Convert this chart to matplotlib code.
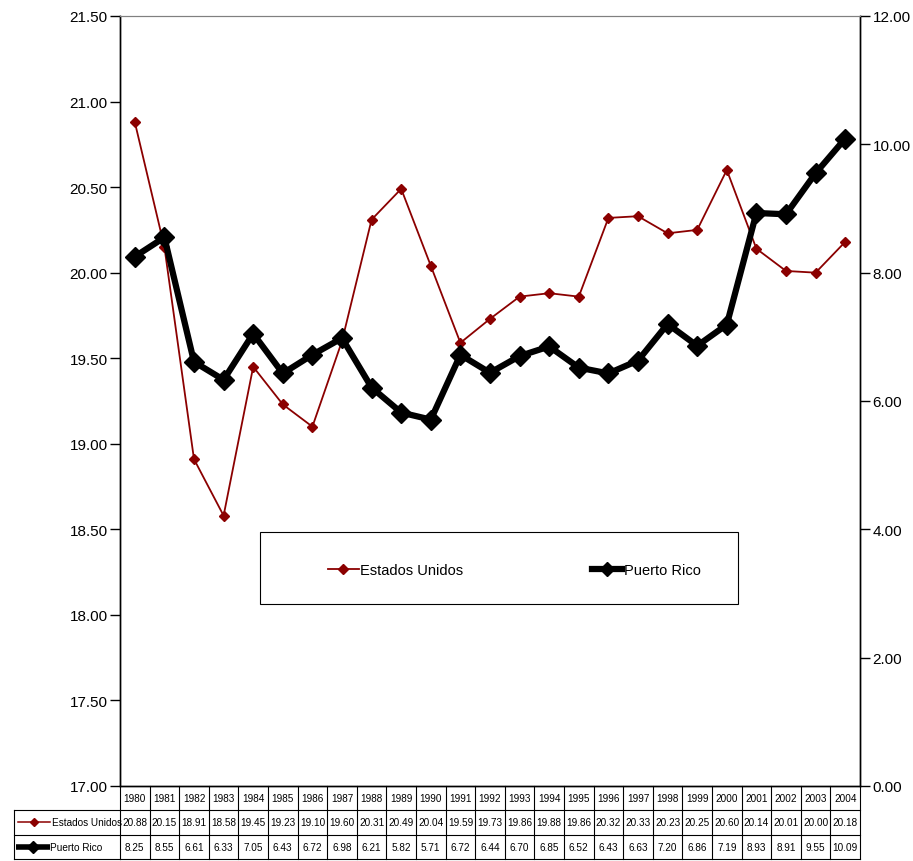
import matplotlib
matplotlib.use("Agg")
import matplotlib.pyplot as plt
from matplotlib.lines import Line2D
from matplotlib.patches import Rectangle

plt.rcParams['font.family'] = ['Liberation Sans', 'DejaVu Sans']

years = list(range(1980, 2005))
estados_unidos = [20.88, 20.15, 18.91, 18.58, 19.45, 19.23, 19.10, 19.60, 20.31, 20.49,
                  20.04, 19.59, 19.73, 19.86, 19.88, 19.86, 20.32, 20.33, 20.23, 20.25,
                  20.60, 20.14, 20.01, 20.00, 20.18]
puerto_rico = [8.25, 8.55, 6.61, 6.33, 7.05, 6.43, 6.72, 6.98, 6.21, 5.82,
               5.71, 6.72, 6.44, 6.70, 6.85, 6.52, 6.43, 6.63, 7.20, 6.86,
               7.19, 8.93, 8.91, 9.55, 10.09]

eu_color = '#8B0000'

fig = plt.figure(figsize=(9.13, 8.62), dpi=100)
ax = fig.add_axes([120 / 913, 1 - 787 / 862, 740 / 913, 770 / 862])
ax2 = ax.twinx()

x = list(range(len(years)))
ax.plot(x, estados_unidos, color=eu_color, lw=1.3, marker='D', markersize=5.5,
        markerfacecolor=eu_color, markeredgecolor=eu_color, zorder=3)
ax2.plot(x, puerto_rico, color='black', lw=4.5, marker='D', markersize=10,
         markerfacecolor='black', markeredgecolor='black', zorder=3)

ax.set_xlim(-0.5, len(years) - 0.5)
ax.set_ylim(17, 21.5)
ax.set_yticks([17 + 0.5 * i for i in range(10)])
ax.yaxis.set_major_formatter(matplotlib.ticker.FormatStrFormatter('%.2f'))
ax2.set_ylim(0, 12)
ax2.set_yticks(range(0, 13, 2))
ax2.yaxis.set_major_formatter(matplotlib.ticker.FormatStrFormatter('%.2f'))

ax.set_xticks([])
for a in (ax, ax2):
    a.tick_params(axis='y', direction='out', length=7, width=1, labelsize=11, pad=2)
    a.spines['top'].set_color('#808080')
    for s in ('left', 'right', 'bottom'):
        a.spines[s].set_color('black')
        a.spines[s].set_linewidth(1)

# data table under the plot
tr = ax.get_xaxis_transform()
rows = [0, -0.0312, -0.0636, -0.0948]
for i in range(len(years) + 1):
    ax.add_line(Line2D([i - 0.5, i - 0.5], [rows[0], rows[3]], transform=tr,
                       color='black', lw=0.8, clip_on=False))
for r in rows[1:]:
    ax.add_line(Line2D([-0.5, len(years) - 0.5], [r, r], transform=tr,
                       color='black', lw=0.8, clip_on=False))
ta = ax.transAxes
lx = -106 / 740
for r in rows[1:]:
    ax.add_line(Line2D([lx, 0], [r, r], transform=ta, color='black', lw=0.8, clip_on=False))
ax.add_line(Line2D([lx, lx], [rows[1], rows[3]], transform=ta, color='black', lw=0.8, clip_on=False))

fs = 7.2
for i, yr in enumerate(years):
    ax.text(i, (rows[0] + rows[1]) / 2, str(yr), transform=tr, ha='center', va='center', fontsize=fs)
    ax.text(i, (rows[1] + rows[2]) / 2, '%.2f' % estados_unidos[i], transform=tr,
            ha='center', va='center', fontsize=fs)
    ax.text(i, (rows[2] + rows[3]) / 2, '%.2f' % puerto_rico[i], transform=tr,
            ha='center', va='center', fontsize=fs)

y_eu = (rows[1] + rows[2]) / 2
y_pr = (rows[2] + rows[3]) / 2
ax.add_line(Line2D([-102 / 740, -70 / 740], [y_eu, y_eu], transform=ta, color=eu_color, lw=1.1,
                   clip_on=False))
ax.add_line(Line2D([-86 / 740], [y_eu], transform=ta, color=eu_color, marker='D', markersize=4,
                   clip_on=False))
ax.text(-68 / 740, y_eu, 'Estados Unidos', transform=ta, ha='left', va='center', fontsize=fs)
ax.add_line(Line2D([-104 / 740, -70 / 740], [y_pr, y_pr], transform=ta, color='black', lw=4,
                   clip_on=False, solid_capstyle='butt'))
ax.add_line(Line2D([-87 / 740], [y_pr], transform=ta, color='black', marker='D', markersize=6,
                   clip_on=False))
ax.text(-70 / 740, y_pr, 'Puerto Rico', transform=ta, ha='left', va='center', fontsize=fs)

# legend box
fig.add_artist(Rectangle((260 / 913, 1 - 605 / 862), 478 / 913, 72 / 862,
                         transform=fig.transFigure, facecolor='white', edgecolor='black',
                         lw=0.8, zorder=4))
handles = [Line2D([], [], color=eu_color, lw=1.3, marker='D', markersize=5.5),
           Line2D([], [], color='black', lw=4.5, marker='D', markersize=7)]
leg = fig.legend(handles, ['Estados Unidos', 'Puerto Rico'], ncol=2,
                 bbox_to_anchor=(328 / 913, 1 - 571 / 862), loc='center left',
                 fontsize=10.5, frameon=False, borderpad=0, borderaxespad=0,
                 handlelength=2.1, handletextpad=0.1, columnspacing=8.8)
leg.set_zorder(5)

fig.savefig('out.png', dpi=100)
